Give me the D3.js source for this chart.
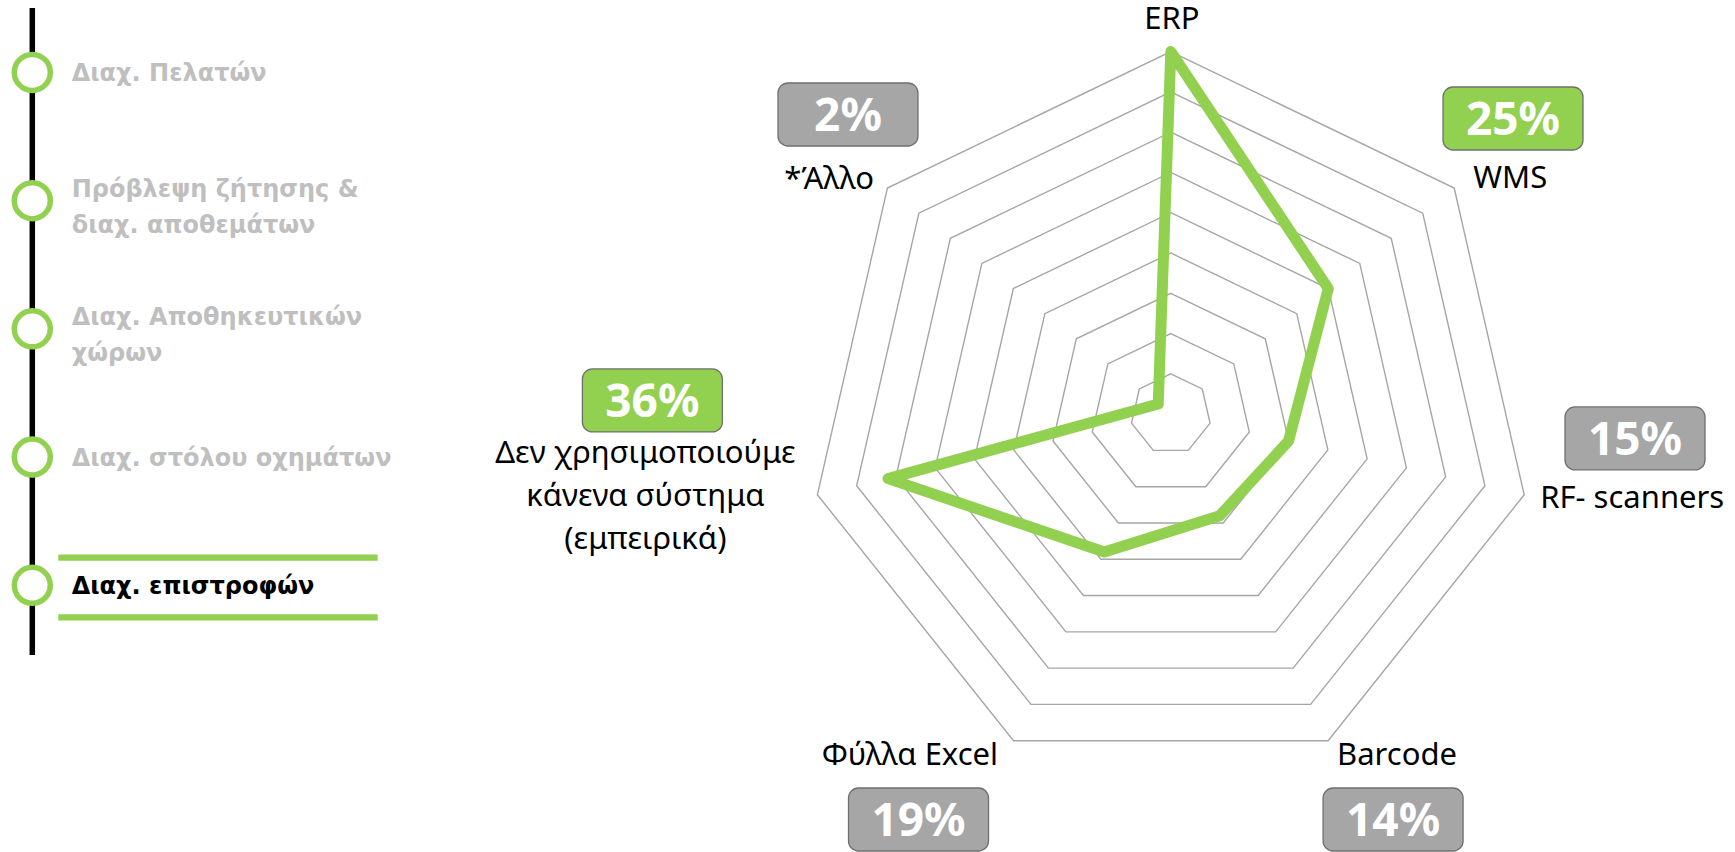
<!DOCTYPE html>
<html>
<head>
<meta charset="utf-8">
<script src="https://cdn.jsdelivr.net/npm/d3@7"></script>
<style>
  html, body { margin: 0; padding: 0; background: #ffffff; }
  svg { display: block; }
</style>
</head>
<body>
<svg id="chart" width="1735" height="852"></svg>
<script>
// ---------- DATA ----------
const categories = ["ERP", "WMS", "RF- scanners", "Barcode", "Φύλλα Excel",
  "Δεν χρησιμοποιούμε|κάνενα σύστημα|(εμπειρικά)", "*Άλλο"];
const values = [45, 25, 15, 14, 19, 36, 2];            // percent
const valueLabels = [null, "25%", "15%", "14%", "19%", "36%", "2%"];
const highlighted = [false, true, false, false, false, true, false];
const gridTicks = [5, 10, 15, 20, 25, 30, 35, 40, 45];
const scaleMax = 45;

const menuItems = ["Διαχ. Πελατών", "Πρόβλεψη ζήτησης &|διαχ. αποθεμάτων",
  "Διαχ. Αποθηκευτικών|χώρων", "Διαχ. στόλου οχημάτων", "Διαχ. επιστροφών"];
const activeMenu = 4;

// ---------- LAYOUT ----------
const W = 1735, H = 852;
const cx = 1170.8, cy = 414.1, R = 362.5;
const green = "#92D050", gray = "#A6A6A6";
const labelFont = "'Noto Sans', 'Open Sans', sans-serif";

// label placement relative to each axis' outer vertex
const labelLayout = [
  {dx: 1, dy: -23, anchor: "middle"},
  {dx: 56, dy: 0, anchor: "middle"},
  {dx: 16, dy: 13, anchor: "start"},
  {dx: 9, dy: 24, anchor: "start"},
  {dx: -15.5, dy: 24, anchor: "end"},
  {dx: -172, dy: -32, anchor: "middle"},
  {dx: -13.4, dy: 1, anchor: "end"}
];
const boxLayout = [
  null,
  {dx: 58.8, dy: -69.6},
  {dx: 110.8, dy: -56.3},
  {dx: 65, dy: 78.8},
  {dx: -95, dy: 78.8},
  {dx: -165, dy: -94.3},
  {dx: -39.4, dy: -73.6}
];
const boxW = 140, boxH = 63;

const svg = d3.select("#chart");

// ---------- RADAR ----------
const n = categories.length;
const angle = d3.scaleLinear().domain([0, n]).range([0, 2 * Math.PI]);
const r = d3.scaleLinear().domain([0, scaleMax]).range([0, R]);

const g = svg.append("g").attr("transform", `translate(${cx},${cy})`);

const ringLine = d3.lineRadial()
  .angle((d, i) => angle(i))
  .radius(d => r(d))
  .curve(d3.curveLinearClosed);

g.selectAll("path.ring")
  .data(gridTicks)
  .join("path")
  .attr("class", "ring")
  .attr("d", t => ringLine(d3.range(n).map(() => t)))
  .attr("fill", "none")
  .attr("stroke", gray)
  .attr("stroke-width", 1.4);

g.append("path")
  .datum(values)
  .attr("d", ringLine)
  .attr("fill", "none")
  .attr("stroke", green)
  .attr("stroke-width", 11)
  .attr("stroke-linejoin", "round");

function vertex(i) {
  const a = angle(i);
  return [cx + r(scaleMax) * Math.sin(a), cy - r(scaleMax) * Math.cos(a)];
}

// category labels
categories.forEach((c, i) => {
  const [vx, vy] = vertex(i);
  const L = labelLayout[i];
  const lines = c.split("|");
  const t = svg.append("text")
    .attr("x", vx + L.dx)
    .attr("y", vy + L.dy)
    .attr("text-anchor", L.anchor)
    .attr("font-family", labelFont)
    .attr("font-size", 31)
    .attr("fill", "#000");
  lines.forEach((ln, k) => {
    t.append("tspan").attr("x", vx + L.dx).attr("dy", k === 0 ? 0 : 43).text(ln);
  });
});

// value boxes
valueLabels.forEach((v, i) => {
  if (!v || !boxLayout[i]) return;
  const [vx, vy] = vertex(i);
  const bx = vx + boxLayout[i].dx, by = vy + boxLayout[i].dy;
  svg.append("rect")
    .attr("x", bx - boxW / 2).attr("y", by - boxH / 2)
    .attr("width", boxW).attr("height", boxH)
    .attr("rx", 10).attr("ry", 10)
    .attr("fill", highlighted[i] ? green : gray)
    .attr("stroke", "#6F6F6F").attr("stroke-width", 1.3);
  svg.append("text")
    .attr("x", bx).attr("y", by)
    .attr("dy", "0.36em")
    .attr("text-anchor", "middle")
    .attr("font-family", labelFont)
    .attr("font-weight", "bold")
    .attr("font-size", 46)
    .attr("fill", "#fff")
    .text(v);
});

// ---------- SIDE MENU ----------
const menuX = 32.3;
const menuY = d3.scaleLinear().domain([0, menuItems.length - 1]).range([72.4, 585.3]);
const side = svg.append("g");
side.append("line")
  .attr("x1", menuX).attr("x2", menuX)
  .attr("y1", 8).attr("y2", 655)
  .attr("stroke", "#000").attr("stroke-width", 5.5);

menuItems.forEach((m, i) => {
  const y = menuY(i);
  side.append("circle")
    .attr("cx", menuX).attr("cy", y).attr("r", 18)
    .attr("fill", "#fff").attr("stroke", green).attr("stroke-width", 5.5);
  const lines = m.split("|");
  const base = lines.length === 1 ? y + 9 : y - 4;
  const t = side.append("text")
    .attr("x", 71.7).attr("y", base)
    .attr("font-family", "'DejaVu Sans', sans-serif")
    .attr("font-weight", "bold")
    .attr("font-size", 24)
    .attr("fill", i === activeMenu ? "#000" : "#BFBFBF");
  lines.forEach((ln, k) => {
    t.append("tspan").attr("x", 71.7).attr("dy", k === 0 ? 0 : 36).text(ln);
  });
  if (i === activeMenu) {
    [y - 27.6, y + 32].forEach(yy => {
      side.append("line")
        .attr("x1", 58.3).attr("x2", 377.7)
        .attr("y1", yy).attr("y2", yy)
        .attr("stroke", green).attr("stroke-width", 6.3);
    });
  }
});
</script>
</body>
</html>
